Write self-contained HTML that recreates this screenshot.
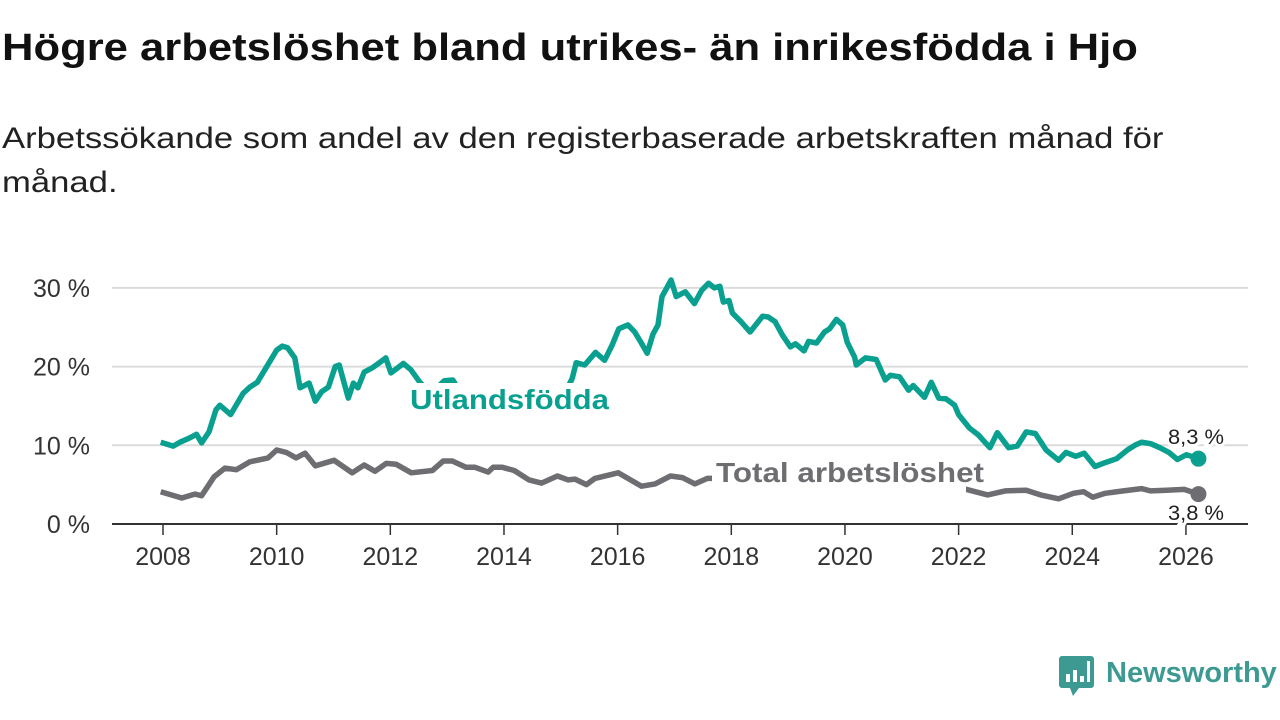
<!DOCTYPE html>
<html><head><meta charset="utf-8">
<style>
html,body{margin:0;padding:0;background:#fff;}
body{width:1280px;height:720px;overflow:hidden;position:relative;font-family:"Liberation Sans",sans-serif;}
#title{position:absolute;left:2px;top:27px;font-size:38px;font-weight:bold;color:#111;margin:0;white-space:nowrap;transform:scaleX(1.147);transform-origin:left top;}
#subtitle{position:absolute;left:2px;top:117px;font-size:30px;color:#222;line-height:44px;margin:0;white-space:nowrap;transform:scaleX(1.155);transform-origin:left top;}
svg{position:absolute;left:0;top:0;}
</style></head>
<body>
<h1 id="title">Högre arbetslöshet bland utrikes- än inrikesfödda i Hjo</h1>
<p id="subtitle">Arbetssökande som andel av den registerbaserade arbetskraften månad för<br>månad.</p>
<svg id="chart" width="1280" height="720"></svg>
<script>
const yTicks=[0,10,20,30];
const yTickLabels=["0 %","10 %","20 %","30 %"];
const xTicks=[2008,2010,2012,2014,2016,2018,2020,2022,2024,2026];
const foreignDates=[2007.96,2008.18,2008.3,2008.46,2008.59,2008.68,2008.81,2008.93,2009.0,2009.19,2009.41,2009.53,2009.66,2010.0,2010.1,2010.19,2010.32,2010.41,2010.57,2010.68,2010.79,2010.91,2011.03,2011.1,2011.26,2011.35,2011.43,2011.54,2011.67,2011.79,2011.92,2012.01,2012.23,2012.36,2012.52,2012.7,2012.95,2013.1,2013.3,2013.6,2014.0,2014.4,2014.8,2015.1,2015.2,2015.27,2015.42,2015.61,2015.77,2015.9,2016.02,2016.18,2016.3,2016.4,2016.52,2016.62,2016.71,2016.78,2016.94,2017.03,2017.19,2017.35,2017.48,2017.6,2017.7,2017.8,2017.86,2017.96,2018.02,2018.17,2018.33,2018.55,2018.65,2018.77,2018.9,2019.04,2019.13,2019.28,2019.36,2019.5,2019.64,2019.73,2019.85,2019.96,2020.04,2020.17,2020.2,2020.36,2020.55,2020.71,2020.8,2020.96,2021.12,2021.2,2021.4,2021.52,2021.65,2021.78,2021.93,2022.0,2022.19,2022.35,2022.55,2022.68,2022.88,2023.03,2023.19,2023.35,2023.54,2023.76,2023.89,2024.06,2024.21,2024.4,2024.58,2024.78,2024.97,2025.1,2025.22,2025.38,2025.54,2025.7,2025.85,2026.01,2026.22];
const foreignValues=[10.4,9.9,10.4,10.9,11.4,10.3,11.7,14.5,15.1,13.9,16.6,17.4,18,22.1,22.6,22.4,21.1,17.3,17.9,15.6,16.8,17.4,20,20.2,16,17.9,17.3,19.3,19.8,20.4,21.1,19.2,20.4,19.6,18,16.5,18.2,18.3,16,15.5,15,14.5,15.5,17,18.5,20.5,20.2,21.8,20.8,22.7,24.8,25.3,24.4,23.2,21.7,24.1,25.3,28.9,31,28.9,29.5,28,29.7,30.6,30,30.2,28.2,28.4,26.8,25.7,24.4,26.4,26.3,25.7,24,22.5,22.9,22,23.2,23,24.4,24.8,26,25.3,23.1,21.2,20.2,21.1,20.9,18.3,18.9,18.7,17,17.6,16.1,18,16,15.9,15.1,13.9,12.2,11.3,9.7,11.6,9.7,9.9,11.7,11.5,9.4,8.1,9.1,8.6,9,7.3,7.8,8.3,9.4,10,10.4,10.2,9.7,9.1,8.2,8.8,8.3];
const totalDates=[2007.96,2008.33,2008.56,2008.68,2008.9,2009.09,2009.29,2009.53,2009.85,2010.0,2010.17,2010.34,2010.5,2010.68,2011.01,2011.33,2011.54,2011.73,2011.93,2012.1,2012.37,2012.74,2012.93,2013.09,2013.33,2013.49,2013.72,2013.81,2013.97,2014.18,2014.44,2014.66,2014.94,2015.13,2015.25,2015.45,2015.6,2016.01,2016.42,2016.66,2016.93,2017.14,2017.36,2017.58,2017.7,2018.0,2018.5,2019.0,2019.5,2020.3,2020.8,2021.3,2021.8,2022.19,2022.51,2022.82,2023.19,2023.44,2023.76,2024.02,2024.2,2024.36,2024.58,2024.9,2025.22,2025.38,2025.66,2025.97,2026.22];
const totalValues=[4.1,3.3,3.8,3.6,6,7.1,6.9,7.9,8.4,9.4,9.1,8.4,9,7.4,8.1,6.5,7.5,6.7,7.7,7.6,6.5,6.8,8,8,7.2,7.2,6.6,7.2,7.2,6.8,5.6,5.2,6.1,5.6,5.7,5,5.8,6.5,4.8,5.1,6.1,5.9,5.1,5.8,5.8,5.4,5,4.6,4.8,5.6,5.8,5.5,5,4.3,3.7,4.2,4.3,3.7,3.2,3.9,4.1,3.4,3.9,4.2,4.5,4.2,4.3,4.4,3.8];
const svg=document.getElementById('chart');
const NS='http://www.w3.org/2000/svg';
const X=v=>163+(v-2008)*56.83;
const Y=v=>524-v*7.87;
function mk(tag,attrs,parent){const e=document.createElementNS(NS,tag);for(const k in attrs)e.setAttribute(k,attrs[k]);(parent||svg).appendChild(e);return e;}
yTicks.forEach((t,i)=>{
  if(t>0){const g=mk('line',{x1:112,x2:1248,y1:Y(t),y2:Y(t),stroke:'#dcdcdc','stroke-width':2});
  
  }
  const l=mk('text',{x:90,y:Y(t)+9,'text-anchor':'end','font-size':25,fill:'#333','font-family':'Liberation Sans, sans-serif'});
  l.textContent=yTickLabels[i];
  
  
});
xTicks.forEach(t=>{
  const tk=mk('line',{x1:X(t),x2:X(t),y1:524,y2:535,stroke:'#333','stroke-width':1.5});
  
  
  const l=mk('text',{x:X(t),y:565,'text-anchor':'middle','font-size':25,fill:'#333','font-family':'Liberation Sans, sans-serif'});
  l.textContent=String(t);
  
  
});
function line(d,v,color,name){
  const p=mk('path',{d:d.map((x,i)=>(i?'L':'M')+X(x).toFixed(1)+','+Y(v[i]).toFixed(1)).join(''),fill:'none',stroke:color,'stroke-width':5.5,'stroke-linejoin':'round'});
  
  
  const c=mk('circle',{cx:X(d[d.length-1]),cy:Y(v[v.length-1]),r:8,fill:color});
  
  
}
line(totalDates,totalValues,'#6e6d72','total-line');
line(foreignDates,foreignValues,'#0aa090','foreign-born-line');
const ax=mk('line',{x1:112,x2:1248,y1:524,y2:524,stroke:'#333','stroke-width':2});


const m1=mk('rect',{x:404,y:383,width:214,height:42,fill:'#fff'});


const m2=mk('rect',{x:712,y:455,width:254,height:45,fill:'#fff'});


function txt(x,y,s,size,color,w,name,anchor,halo,len){
  const t=mk('text',{x:x,y:y,'font-size':size,fill:color,'font-weight':w,'text-anchor':anchor||'start','font-family':'Liberation Sans, sans-serif'});
  if(halo){t.setAttribute('stroke','#fff');t.setAttribute('stroke-width',6);t.setAttribute('paint-order','stroke');}
  if(len){t.setAttribute('textLength',len);t.setAttribute('lengthAdjust','spacingAndGlyphs');}
  t.textContent=s;
  
  
}
txt(410,409,'Utlandsfödda',28,'#0aa090','bold','foreign-born-label',null,false,199);
txt(716,482,'Total arbetslöshet',28,'#6e6d72','bold','total-label',null,false,268);
txt(1196,444,'8,3 %',21,'#222','normal','foreign-born-end-value','middle',true,56);
txt(1196,520,'3,8 %',21,'#222','normal','total-end-value','middle',true,56);
const lg=mk('g',{});


mk('path',{d:'M1062,656 h29 a3,3 0 0 1 3,3 v26 a3,3 0 0 1 -3,3 h-12 l-6,8 l-3,-8 h-8 a3,3 0 0 1 -3,-3 v-26 a3,3 0 0 1 3,-3z',fill:'#3d9a93'},lg);
mk('rect',{x:1066,y:674,width:4,height:8,fill:'#fff'},lg);
mk('rect',{x:1073,y:670,width:4,height:12,fill:'#fff'},lg);
mk('rect',{x:1080,y:676,width:4,height:6,fill:'#fff'},lg);
mk('rect',{x:1087,y:661,width:3,height:21,fill:'#fff'},lg);
const lt=mk('text',{x:1106,y:682,'font-size':29,fill:'#3d9a93','font-weight':'bold','font-family':'Liberation Sans, sans-serif'},lg);
lt.textContent='Newsworthy';
</script>
</body></html>
